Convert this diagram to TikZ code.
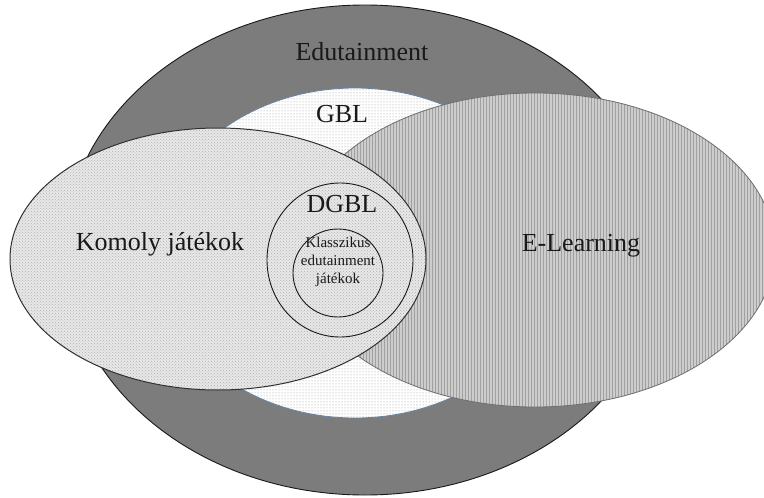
\documentclass[tikz,border=0pt]{standalone}
\usepackage{fontspec}
\setmainfont{Liberation Serif}
\usetikzlibrary{patterns}

\definecolor{edufill}{RGB}{124,124,124}
\definecolor{gbldot}{RGB}{150,150,150}
\definecolor{gbledge}{RGB}{100,130,160}
\definecolor{elfill}{RGB}{205,205,205}
\definecolor{elline}{RGB}{160,160,160}
\definecolor{eledge}{RGB}{110,110,110}
\definecolor{kjfill}{RGB}{232,232,232}
\definecolor{kjdot}{RGB}{175,175,175}
\definecolor{ink}{RGB}{25,25,25}

\tikzset{
  edu/.style={fill=edufill, draw=ink, line width=0.9pt},
  gbl/.style={preaction={fill=white}, pattern=dots, pattern color=gbldot,
              draw=gbledge, line width=0.8pt},
  elearn/.style={preaction={fill=elfill}, pattern=vertical lines,
                 pattern color=elline, draw=eledge, line width=0.8pt},
  komoly/.style={preaction={fill=kjfill}, pattern=crosshatch dots,
                 pattern color=kjdot, draw=ink!90, line width=1pt},
  ring/.style={draw=ink, line width=0.9pt},
  biglabel/.style={text=ink, font=\fontsize{26}{30}\selectfont, inner sep=0pt, anchor=base},
  smalllabel/.style={text=ink, font=\fontsize{15}{18}\selectfont, align=center, inner sep=0pt}
}

\begin{document}
\begin{tikzpicture}[x=1pt,y=-1pt]
  \useasboundingbox (0,0) rectangle (764,498);

  % Edutainment (outer set)
  \path[edu] (365,250) ellipse [x radius=300, y radius=245];

  % GBL
  \path[gbl] (355,253) ellipse [x radius=200, y radius=165];

  % E-Learning, cut off at the right border
  \begin{scope}
    \clip (0,0) rectangle (764,498);
    \path[elearn] (535,250) ellipse [x radius=240, y radius=157];
  \end{scope}

  % Komoly játékok
  \path[komoly] (218,259) ellipse [x radius=208, y radius=131];

  % DGBL and the classic edutainment games inside it
  \path[ring] (340,260) ellipse [x radius=73, y radius=77];
  \path[ring] (338,273) ellipse [x radius=45, y radius=44];

  % Labels
  \node[biglabel] (edutainment) at (362,60) {Edutainment};
  \node[biglabel] (gbl) at (342,122) {GBL};
  \node[biglabel] (dgbl) at (342,212) {DGBL};
  \node[biglabel] (komoly) at (160,250) {Komoly játékok};
  \node[biglabel] (elearning) at (581,251) {E-Learning};
  \node[smalllabel] (klasszikus) at (338,262) {Klasszikus\\edutainment\\játékok};
\end{tikzpicture}
\end{document}
